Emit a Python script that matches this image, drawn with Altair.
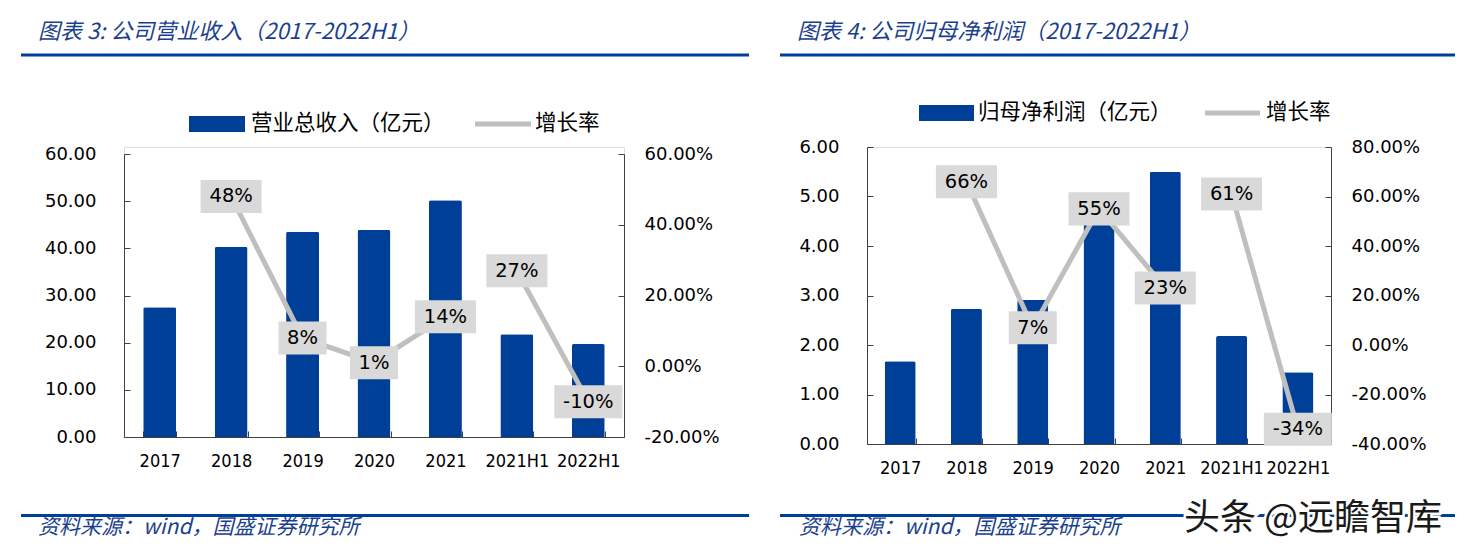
import altair as alt
import pandas as pd

# ---------------- data ----------------
cats = ["2017", "2018", "2019", "2020", "2021", "2021H1", "2022H1"]
periods = ["年度", "年度", "年度", "年度", "年度", "半年度", "半年度"]

revenue = [27.5, 40.3, 43.5, 43.9, 50.2, 21.8, 19.7]
revenue_growth = [None, 0.48, 0.08, 0.01, 0.14, 0.27, -0.10]

profit = [1.67, 2.73, 2.91, 4.49, 5.50, 2.18, 1.45]
profit_growth = [None, 0.66, 0.07, 0.55, 0.23, 0.61, -0.34]

rev_ticks = [0, 10, 20, 30, 40, 50, 60]
rev_growth_ticks = [-0.2, -0.1, 0.0, 0.1, 0.2, 0.3, 0.4, 0.5, 0.6]
profit_ticks = [0, 1, 2, 3, 4, 5, 6]
profit_growth_ticks = [-0.4, -0.2, 0.0, 0.2, 0.4, 0.6, 0.8]

titles = ["图表 3:  公司营业收入（2017-2022H1）", "图表 4:  公司归母净利润（2017-2022H1）"]
bar_names = ["营业总收入（亿元）", "归母净利润（亿元）"]
line_name = "增长率"
source = "资料来源：wind，国盛证券研究所"
watermark = "头条 @远瞻智库"

# ---------------- style ----------------
BLUE = "#003F98"
TBLUE = "#1B3F8F"
GREY = "#BFBFBF"
BOX = "#D9D9D9"
AX = "#404040"
CJK = "Noto Sans CJK SC"
NUM = "DejaVu Sans"
NUMC = "DejaVu Sans Condensed"
BOX_H = 33
BOX_W = {2: 48, 3: 61, 4: 68}
HYPHEN = "replace(datum.label, '\u2212', '-')"


def one(val):
    return pd.DataFrame({"t": [val]})


def text_layer(txt, x, y, size, color, font, style="normal", align="left", **kw):
    return alt.Chart(one(txt)).mark_text(
        align=align, baseline="middle", fontSize=size, font=font,
        fontStyle=style, color=color, **kw
    ).encode(x=alt.value(x), y=alt.value(y), text="t:N")


def hrule(x1, x2, y, color, width):
    return alt.Chart(one(0)).mark_rule(color=color, strokeWidth=width, strokeCap="butt").encode(
        x=alt.value(x1), x2=alt.value(x2), y=alt.value(y))


def rect(x1, x2, y1, y2, color):
    return alt.Chart(one(0)).mark_rect(color=color).encode(
        x=alt.value(x1), x2=alt.value(x2), y=alt.value(y1), y2=alt.value(y2))


def panel(W, H, ytop, vals, growth, ydom, yticks, gdom, gticks, pin, title, bar_name, d):
    df = pd.DataFrame({"cat": cats, "v": vals, "g": growth, "seg": periods})
    xscale = alt.Scale(paddingInner=pin, paddingOuter=pin / 2)
    xaxis = alt.Axis(orient="bottom", domainColor=AX, tickColor=AX,
                     tickSize=alt.ExprRef(expr="-6"), tickBand="extent",
                     labelAngle=0, labelFont=NUMC, labelFontSize=18,
                     labelColor="#000", labelPadding=21.5, grid=False)

    def X(axis=None):
        if axis is not None:
            return alt.X("cat:N", sort=cats, title=None, scale=xscale, axis=axis)
        return alt.X("cat:N", sort=cats, title=None, scale=xscale)

    left_axis = alt.Axis(orient="left", values=yticks, format=".2f", domainColor=AX,
                         tickColor=AX, tickSize=alt.ExprRef(expr="-6"), labelFont=NUM,
                         labelFontSize=18, labelColor="#000", labelPadding=34, grid=False)
    right_axis = alt.Axis(orient="right", values=gticks, format=".2%", domainColor=AX,
                          tickColor=AX, tickSize=alt.ExprRef(expr="-6"), labelFont=NUM,
                          labelFontSize=18, labelColor="#000", labelPadding=26, grid=False,
                          labelExpr=HYPHEN)

    base = alt.Chart(df)
    bars = base.mark_bar(color=BLUE, cornerRadiusTopLeft=2, cornerRadiusTopRight=2).encode(
        x=X(xaxis),
        y=alt.Y("v:Q", title=None, scale=alt.Scale(domain=ydom, nice=False, range=[H, ytop]),
                axis=left_axis),
    )

    decor = [
        text_layer(title, d["title"][0], d["title"][1], 22, TBLUE, CJK, style="italic"),
        hrule(d["rule"][0], d["rule"][1], d["rule"][2], BLUE, 3),
        rect(*d["lrect"], BLUE),
        text_layer(bar_name, d["ltext"][0], d["ltext"][1], 21.5, "#000", CJK),
        hrule(d["lline"][0], d["lline"][1], d["lline"][2], GREY, 5),
        text_layer(line_name, d["ltext2"][0], d["ltext2"][1], 21.5, "#000", CJK),
        hrule(d["rule"][0], d["rule"][1], d["brule"], BLUE, 3),
        text_layer(source, d["src"][0], d["src"][1], 21, TBLUE, CJK, style="italic"),
    ]
    if "wm" in d:
        decor.append(text_layer(watermark, d["wm"][0], d["wm"][1], 36, "white", CJK,
                                stroke="white", strokeWidth=5))
        decor.append(text_layer(watermark, d["wm"][0], d["wm"][1], 36, "#1a1a1a", CJK))

    left_sub = alt.layer(bars, *decor)

    gbase = base.transform_filter("isValid(datum.g)").transform_calculate(
        lab="replace(format(datum.g, '.0%'), '\u2212', '-')"
    ).transform_calculate(n="length(datum.lab)")
    gscale = alt.Scale(domain=gdom, nice=False, range=[H, ytop])
    gy = alt.Y("g:Q", title=None, scale=gscale)
    line = gbase.mark_line(color=GREY, strokeWidth=5).encode(
        x=X(), y=alt.Y("g:Q", title=None, scale=gscale, axis=right_axis),
        detail="seg:N")
    boxes = []
    for n, w in BOX_W.items():
        h = BOX_H / w
        path = f"M-1,-{h:.4f}L1,-{h:.4f}L1,{h:.4f}L-1,{h:.4f}Z"
        boxes.append(gbase.transform_filter(f"datum.n == {n}").mark_point(
            shape=path, size=w * w, filled=True, fill=BOX, opacity=1, strokeWidth=0
        ).encode(x=X(), y=gy))
    labels = gbase.mark_text(font=NUM, fontSize=19.5, color="#000", baseline="middle").encode(
        x=X(), y=gy, text="lab:N")
    right_sub = alt.layer(line, *boxes, labels)

    return alt.layer(left_sub, right_sub).resolve_scale(y="independent").properties(
        width=W, height=H)


# decoration positions relative to each panel's plot origin (top-left)
left_decor = {
    "title": (-86, -115),
    "rule": (-103, 625, -92),
    "brule": 368.5,
    "lrect": (65, 121, -31, -15),
    "ltext": (127, -23),
    "lline": (351, 407, -23),
    "ltext2": (411, -23),
    "src": (-86, 381),
}
right_decor = {
    "title": (-70, -115),
    "rule": (-87, 588, -92),
    "brule": 368.5,
    "lrect": (52, 107, -42, -26),
    "ltext": (111, -34),
    "lline": (338, 393, -34),
    "ltext2": (399, -34),
    "src": (-68, 381),
    "wm": (317, 372),
}

pL = panel(500, 290, 7, revenue, revenue_growth, [0, 60], rev_ticks, [-0.2, 0.6],
           rev_growth_ticks, 0.538, titles[0], bar_names[0], left_decor)
pR = panel(464, 297, 0, profit, profit_growth, [0, 6], profit_ticks, [-0.4, 0.8],
           profit_growth_ticks, 0.532, titles[1], bar_names[1], right_decor)

chart = alt.hconcat(pL, pR, spacing=27).properties(
    padding={"left": 11, "top": 12, "right": 0, "bottom": 0}
).configure_view(stroke=None).configure(background="white")

chart.save("out.html", embed_options={"renderer": "svg", "actions": False})
